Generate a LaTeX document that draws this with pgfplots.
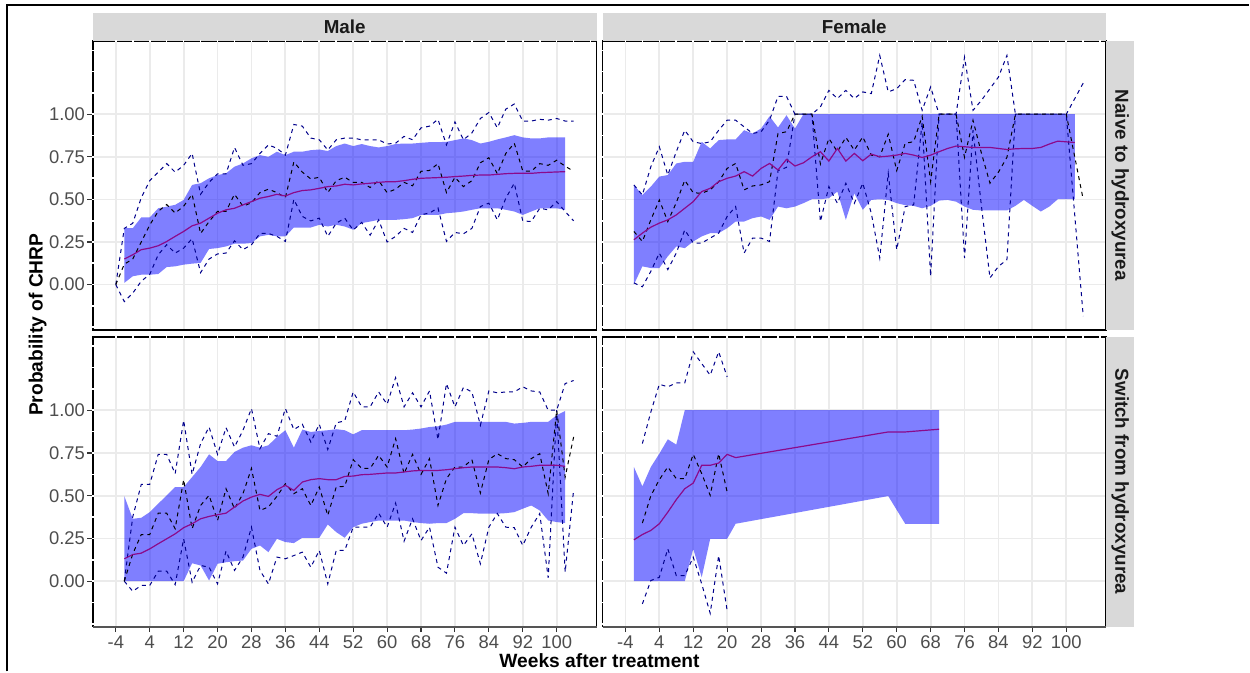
\documentclass[border=0pt]{standalone}
\usepackage{fontspec}
\setmainfont{Liberation Sans}
\usepackage{pgfplots}
\usepackage{pgfplotstable}
\pgfplotsset{compat=1.18}
\usepgfplotslibrary{fillbetween}

\definecolor{gridgray}{HTML}{EBEBEB}
\definecolor{stripgray}{HTML}{D9D9D9}
\definecolor{ticklab}{HTML}{4D4D4D}
\definecolor{tickcol}{HTML}{333333}
\definecolor{stripfg}{HTML}{1A1A1A}
\definecolor{boundblue}{HTML}{00008B}
\definecolor{meanpurple}{HTML}{8B0A8B}
\definecolor{baseaxis}{HTML}{555555}

% observed proportion (M) with its upper (U) and lower (L) limits
\pgfplotstableread{
w U M L
-4 0 0 0
-2 0.33 0.12 -0.10
0 0.36 0.15 -0.05
2 0.51 0.25 0.02
4 0.61 0.35 0.06
6 0.66 0.43 0.175
8 0.71 0.47 0.234
10 0.66 0.42 0.185
12 0.70 0.46 0.214
14 0.77 0.53 0.27
16 0.53 0.30 0.07
18 0.60 0.37 0.15
20 0.65 0.43 0.18
22 0.65 0.43 0.185
24 0.805 0.53 0.257
26 0.70 0.46 0.205
28 0.71 0.48 0.234
30 0.77 0.54 0.30
32 0.82 0.56 0.30
34 0.80 0.54 0.283
36 0.76 0.51 0.253
38 0.94 0.72 0.50
40 0.93 0.66 0.40
42 0.86 0.62 0.374
44 0.85 0.63 0.39
46 0.79 0.54 0.283
48 0.85 0.61 0.36
50 0.86 0.63 0.39
52 0.86 0.60 0.32
54 0.85 0.60 0.365
56 0.85 0.57 0.29
58 0.85 0.61 0.38
60 0.825 0.54 0.25
62 0.83 0.56 0.283
64 0.87 0.60 0.33
66 0.85 0.58 0.306
68 0.92 0.665 0.41
70 0.93 0.67 0.42
72 0.97 0.71 0.45
74 0.82 0.54 0.253
76 0.955 0.63 0.306
78 0.85 0.575 0.298
80 0.89 0.61 0.33
82 0.975 0.715 0.458
84 1.01 0.745 0.478
86 0.92 0.65 0.38
88 1.03 0.77 0.507
90 1.06 0.83 0.595
92 0.96 0.667 0.374
94 0.96 0.665 0.37
96 0.97 0.71 0.448
98 0.965 0.70 0.439
100 0.975 0.73 0.487
102 0.96 0.695 0.429
104 0.96 0.665 0.374
}\tlobs

% model band (lo, hi) and fitted mean (mu)
\pgfplotstableread{
w lo hi mu
-2 0.010 0.331 0.150
0 0.049 0.331 0.175
2 0.058 0.394 0.205
4 0.058 0.394 0.214
6 0.062 0.448 0.228
8 0.103 0.458 0.253
10 0.107 0.468 0.283
12 0.117 0.497 0.312
14 0.123 0.585 0.345
16 0.127 0.595 0.361
18 0.209 0.624 0.390
20 0.214 0.643 0.419
22 0.224 0.653 0.439
24 0.240 0.692 0.448
26 0.240 0.711 0.468
28 0.244 0.741 0.487
30 0.283 0.760 0.507
32 0.292 0.750 0.517
34 0.283 0.780 0.530
36 0.283 0.760 0.520
38 0.335 0.780 0.540
40 0.335 0.780 0.552
42 0.335 0.789 0.556
44 0.351 0.793 0.565
46 0.341 0.784 0.575
48 0.351 0.813 0.579
50 0.341 0.828 0.589
52 0.322 0.813 0.585
54 0.361 0.825 0.591
56 0.370 0.813 0.595
58 0.380 0.805 0.600
60 0.380 0.813 0.604
62 0.380 0.825 0.604
64 0.384 0.828 0.610
66 0.390 0.828 0.618
68 0.409 0.832 0.624
70 0.409 0.836 0.626
72 0.409 0.836 0.628
74 0.419 0.838 0.630
76 0.423 0.848 0.634
78 0.429 0.858 0.637
80 0.439 0.848 0.641
82 0.448 0.828 0.643
84 0.448 0.838 0.643
86 0.448 0.852 0.647
88 0.439 0.864 0.651
90 0.429 0.877 0.653
92 0.409 0.864 0.653
94 0.429 0.858 0.653
96 0.448 0.858 0.657
98 0.448 0.864 0.659
100 0.448 0.864 0.661
102 0.439 0.864 0.663
}\tlfit

\pgfplotstableread{
w U M L
-2 0.585 0.312 0.010
0 0.526 0.253 -0.013
2 0.692 0.380 0.078
4 0.809 0.497 0.185
6 0.643 0.370 0.088
8 0.780 0.481 0.185
10 0.906 0.612 0.321
12 0.838 0.539 0.244
14 0.828 0.536 0.244
16 0.838 0.556 0.273
18 0.906 0.604 0.302
20 0.965 0.682 0.400
22 0.965 0.711 0.458
24 0.926 0.556 0.185
26 0.887 0.579 0.273
28 0.897 0.585 0.273
30 0.965 0.604 0.253
32 1.105 0.887 0.669
34 1.105 0.897 0.688
36 1 1 1
38 1 1 1
40 1 1 1
42 1.043 0.708 0.370
44 1.140 0.858 0.575
46 1.092 0.780 0.477
48 1.140 0.864 0.595
50 1.092 0.789 0.477
52 1.131 0.867 0.595
54 1.121 0.760 0.419
56 1.345 0.750 0.156
58 1.131 0.883 0.653
60 1.150 0.669 0.205
62 1.203 0.829 0.458
64 1.199 0.839 0.468
66 1.023 0.988 0.953
68 1.160 0.604 0.049
70 1 1 1
72 1 1 1
74 1 1 1
76 1.335 0.747 0.156
78 1.023 0.965 0.906
80 1.082 0.770 0.458
82 1.150 0.595 0.039
84 1.218 0.660 0.107
86 1.345 0.747 0.146
88 1 1 1
90 1 1 1
92 1 1 1
94 1 1 1
96 1 1 1
98 1 1 1
100 1 1 1
104 1.183 0.499 -0.185
}\trobs

\pgfplotstableread{
w lo hi mu
-2 0.000 0.585 0.263
0 0.107 0.526 0.302
2 0.097 0.575 0.337
4 0.097 0.634 0.361
6 0.166 0.643 0.380
8 0.224 0.711 0.409
10 0.214 0.721 0.448
12 0.253 0.721 0.487
14 0.283 0.838 0.546
16 0.302 0.799 0.565
18 0.302 0.848 0.604
20 0.331 0.852 0.624
22 0.370 0.852 0.637
24 0.370 0.906 0.663
26 0.390 0.887 0.637
28 0.400 0.916 0.682
30 0.380 0.988 0.711
32 0.458 0.922 0.673
34 0.448 0.994 0.735
36 0.458 0.916 0.696
38 0.478 1 0.715
40 0.501 1 0.750
42 0.501 1 0.780
44 0.507 1 0.725
46 0.546 1 0.799
48 0.380 1 0.725
50 0.536 1 0.770
52 0.439 1 0.727
54 0.497 1 0.766
56 0.501 1 0.750
58 0.497 1 0.754
60 0.478 1 0.760
62 0.466 1 0.770
64 0.462 1 0.760
66 0.448 1 0.746
68 0.462 1 0.760
70 0.493 1 0.780
72 0.497 1 0.799
74 0.487 1 0.813
76 0.458 1 0.809
78 0.439 1 0.805
80 0.435 1 0.805
82 0.435 1 0.805
84 0.435 1 0.799
86 0.435 1 0.793
88 0.462 1 0.797
90 0.497 1 0.799
92 0.462 1 0.799
94 0.429 1 0.805
96 0.458 1 0.825
98 0.501 1 0.842
100 0.501 1 0.838
102 0.501 1 0.834
}\trfit

\pgfplotstableread{
w U M L
-2 0 0 0
0 0.377 0.160 -0.059
2 0.566 0.273 -0.025
4 0.566 0.273 -0.025
6 0.742 0.398 0.059
8 0.742 0.398 0.059
10 0.629 0.307 -0.020
12 0.941 0.594 0.248
14 0.625 0.307 -0.006
16 0.805 0.443 0.092
18 0.902 0.502 0.082
20 0.742 0.355 -0.016
22 0.898 0.541 0.176
24 0.785 0.424 0.063
26 0.883 0.512 0.141
28 1.010 0.660 0.316
30 0.775 0.414 0.063
32 0.863 0.434 -0.016
34 0.848 0.496 0.141
36 1.010 0.570 0.131
38 0.887 0.512 0.150
40 0.918 0.541 0.170
42 0.814 0.443 0.082
44 0.918 0.551 0.180
46 0.770 0.385 -0.016
48 0.926 0.551 0.180
50 0.938 0.555 0.180
52 1.107 0.711 0.316
54 1.020 0.660 0.316
56 1.020 0.660 0.316
58 1.107 0.736 0.398
60 1.035 0.668 0.316
62 1.191 0.834 0.457
64 1.020 0.629 0.234
66 1.102 0.742 0.365
68 1.020 0.625 0.238
70 1.113 0.717 0.316
72 0.828 0.443 0.082
74 1.156 0.600 0.047
76 1.020 0.668 0.316
78 1.133 0.668 0.209
80 1.107 0.711 0.277
82 0.912 0.516 0.102
84 1.113 0.711 0.316
86 1.102 0.746 0.396
88 1.107 0.717 0.316
90 1.107 0.711 0.313
92 1.137 0.668 0.209
94 1.113 0.717 0.316
96 1.107 0.746 0.396
98 1.000 0.512 0.020
100 1 1 1
102 1.156 0.609 0.053
104 1.174 0.844 0.535
}\blobs

\pgfplotstableread{
w lo hi mu
-2 0 0.498 0.131
0 0 0.365 0.156
2 0 0.371 0.164
4 0 0.404 0.189
6 0 0.453 0.219
8 0 0.502 0.248
10 0 0.551 0.277
12 0 0.551 0.313
14 0.105 0.609 0.336
16 0.092 0.668 0.365
18 0.004 0.742 0.379
20 0.102 0.703 0.389
22 0.111 0.703 0.398
24 0.117 0.756 0.434
26 0.121 0.781 0.469
28 0.189 0.795 0.492
30 0.209 0.781 0.508
32 0.170 0.795 0.496
34 0.248 0.844 0.535
36 0.229 0.883 0.561
38 0.223 0.781 0.531
40 0.254 0.887 0.580
42 0.254 0.873 0.594
44 0.254 0.879 0.600
46 0.332 0.883 0.594
48 0.287 0.889 0.594
50 0.254 0.883 0.613
52 0.316 0.859 0.615
54 0.336 0.883 0.623
56 0.346 0.883 0.625
58 0.355 0.883 0.629
60 0.355 0.883 0.633
62 0.355 0.883 0.633
64 0.355 0.883 0.639
66 0.346 0.887 0.645
68 0.340 0.893 0.648
70 0.336 0.902 0.648
72 0.340 0.906 0.648
74 0.340 0.916 0.652
76 0.365 0.932 0.658
78 0.398 0.932 0.664
80 0.398 0.932 0.668
82 0.395 0.932 0.668
84 0.395 0.932 0.668
86 0.395 0.932 0.668
88 0.398 0.932 0.664
90 0.404 0.922 0.658
92 0.424 0.926 0.668
94 0.443 0.932 0.672
96 0.414 0.932 0.678
98 0.355 0.932 0.678
100 0.346 0.971 0.678
102 0.340 0.996 0.672
}\blfit

\pgfplotstableread{
w U M L
0 0.805 0.340 -0.133
2 0.990 0.500 0.004
4 1.152 0.594 0.023
6 1.137 0.668 0.189
8 1.160 0.600 0.033
10 1.160 0.600 0.033
12 1.342 0.742 0.141
14 1.273 0.629 -0.016
16 1.205 0.502 -0.188
18 1.342 0.746 0.150
20 1.195 0.521 -0.172
}\brobs

\pgfplotstableread{
w lo hi mu
-2 0 0.668 0.242
0 0 0.555 0.273
2 0 0.668 0.297
4 0 0.746 0.336
6 0 0.830 0.404
8 0 0.799 0.477
10 0 1 0.541
12 0.189 1 0.574
14 0.023 1 0.678
16 0.248 1 0.678
18 0.248 1 0.691
20 0.248 1 0.742
22 0.336 1 0.723
58 0.498 1 0.873
62 0.336 1 0.873
70 0.336 1 0.889
}\brfit

\tikzset{gapmark/.style={draw=white, line width=0.8bp}}

\pgfplotsset{
  facet/.style={
    scale only axis, width=252bp, anchor=north west,
    xmin=-9.4, xmax=109.4, ymin=-0.265, ymax=1.43,
    xtick={-4,4,...,100}, ytick={0,0.25,0.5,0.75,1},
    tick pos=left, tick align=outside,
    major tick length=2.8bp,
    grid=major,
    major grid style={draw=gridgray, line width=0.9bp},
    axis line style={draw=black, line width=0.8bp},
    tick style={draw=tickcol, line width=0.55bp},
    tick label style={font=\fontsize{9.2bp}{11bp}\selectfont, text=ticklab},
    yticklabel style={anchor=east, inner sep=1bp},
    xticklabel style={anchor=north, inner sep=1.5bp},
    clip=false,
  },
  noxticks/.style={xticklabels={}, xtick style={/pgfplots/major tick length=0pt}},
  noyticks/.style={yticklabels={}, ytick style={/pgfplots/major tick length=0pt}},
  ylabs/.style={yticklabels={0.00,0.25,0.50,0.75,1.00}},
  xlabs/.style={xticklabels={-4,4,12,20,28,36,44,52,60,68,76,84,92,100}},
  bound/.style={draw=boundblue, line width=0.5bp, dash pattern=on 2bp off 2bp, mark=none},
  obsmid/.style={draw=black, line width=0.5bp, dash pattern=on 2bp off 2bp, mark=none},
  band/.style={fill=blue, fill opacity=0.5, draw=none},
  fitline/.style={draw=meanpurple, line width=0.6bp, mark=none},
}

% series of one facet, then the light breaks in its top and left frame lines
\newcommand{\facetdata}[3]{%
  \addplot[bound] table[x=w,y=U]{#1};
  \addplot[bound] table[x=w,y=L]{#1};
  \addplot[obsmid] table[x=w,y=M]{#1};
  \addplot[draw=none, name path=#3hi] table[x=w,y=hi]{#2};
  \addplot[draw=none, name path=#3lo] table[x=w,y=lo]{#2};
  \addplot[band] fill between[of=#3hi and #3lo];
  \addplot[fitline] table[x=w,y=mu]{#2};
  \pgfplotsinvokeforeach{-4,0,...,108}{%
    \draw[gapmark] ([yshift=-0.6bp]axis cs:##1,1.43) -- ([yshift=0.6bp]axis cs:##1,1.43);}
  \pgfplotsinvokeforeach{-0.25,-0.125,...,1.376}{%
    \draw[gapmark] ([xshift=-0.6bp]axis cs:-9.4,##1) -- ([xshift=0.6bp]axis cs:-9.4,##1);}
}

\begin{document}
\begin{tikzpicture}
% page extent
\path (0,0) rectangle (625bp,-336bp);

% outer frame
\draw[line width=1bp] (3.65bp,-336bp) -- (3.65bp,-2.5bp) -- (625bp,-2.5bp);

% facet strips
\fill[stripgray] (46.5bp,-6.35bp) rectangle (298.5bp,-20.5bp);
\fill[stripgray] (301.5bp,-6.35bp) rectangle (553.5bp,-20.5bp);
\fill[stripgray] (553.5bp,-20.5bp) rectangle (567.5bp,-165bp);
\fill[stripgray] (553.5bp,-168.5bp) rectangle (567.5bp,-313.5bp);

\begin{axis}[facet, at={(46.5bp,-20.5bp)}, height=144.5bp, noxticks, ylabs]
  \facetdata{\tlobs}{\tlfit}{tl}
\end{axis}

\begin{axis}[facet, at={(301.5bp,-20.5bp)}, height=144.5bp, noxticks, noyticks]
  \facetdata{\trobs}{\trfit}{tr}
\end{axis}

\begin{axis}[facet, at={(46.5bp,-168.5bp)}, height=145bp, xlabs, ylabs]
  \facetdata{\blobs}{\blfit}{bl}
  \draw[baseaxis, line width=1bp] (rel axis cs:0,0) -- (rel axis cs:1,0);
\end{axis}

\begin{axis}[facet, at={(301.5bp,-168.5bp)}, height=145bp, xlabs, noyticks]
  \facetdata{\brobs}{\brfit}{br}
  \draw[baseaxis, line width=1bp] (rel axis cs:0,0) -- (rel axis cs:1,0);
\end{axis}

% strip labels
\begin{scope}[every node/.style={font=\bfseries\fontsize{9.4bp}{11bp}\selectfont, text=stripfg, inner sep=0pt}]
  \node at (172.5bp,-13.5bp) {Male};
  \node at (427.5bp,-13.5bp) {Female};
  \node[rotate=-90] at (560.5bp,-92.75bp) {Naive to hydroxyurea};
  \node[rotate=-90] at (560.5bp,-241bp) {Switch from hydroxyurea};
\end{scope}

% axis titles
\node[font=\bfseries\fontsize{9.6bp}{11bp}\selectfont, inner sep=0pt, rotate=90] at (18.9bp,-162.5bp) {Probability of CHRP};
\node[font=\bfseries\fontsize{9.6bp}{11bp}\selectfont, inner sep=0pt] at (300bp,-330.8bp) {Weeks after treatment};
\end{tikzpicture}
\end{document}
